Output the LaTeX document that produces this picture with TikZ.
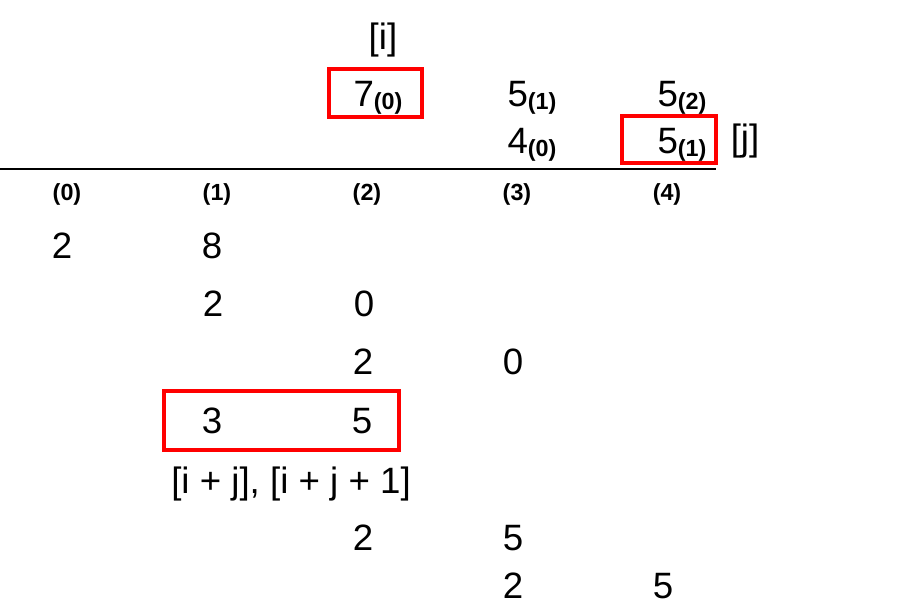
\documentclass[tikz,border=0pt]{standalone}
\usepackage{fontspec}
\setmainfont{Liberation Sans}
\newcommand\subidx[1]{\raisebox{-2.4pt}{\bfseries\fontsize{17.5}{20}\selectfont(#1)}}
\begin{document}
\begin{tikzpicture}[x=0.75pt,y=-0.75pt,
  num/.style={inner sep=0pt, font=\fontsize{27.5}{32}\selectfont},
  top/.style={inner sep=0pt, anchor=base, font=\fontsize{27.5}{32}\selectfont},
  hdr/.style={inner sep=0pt, font=\bfseries\fontsize{17.5}{20}\selectfont},
  redbox/.style={draw=red, line width=2.4pt},
  rule/.style={draw=black, line width=1.3pt}
]
\useasboundingbox (0,0) rectangle (913,615);

% top part
\node[num] (i) at (383,40) {[i]};
\node[top] (a0) at (378,106) {7\subidx{0}};
\node[top] (a1) at (532,106) {5\subidx{1}};
\node[top] (a2) at (682,106) {5\subidx{2}};
\node[top] (b0) at (532,153) {4\subidx{0}};
\node[top] (b1) at (682,153) {5\subidx{1}};
\node[num] (j) at (745,141) {[j]};
\draw[redbox] (329,69) rectangle (422,117);
\draw[redbox] (622,116) rectangle (716,163);

\coordinate (l0) at (0,169);
\coordinate (l1) at (716,169);
\draw[rule] (l0) -- (l1);

% headers
\node[hdr] (h0) at (67,194) {(0)};
\node[hdr] (h1) at (217,194) {(1)};
\node[hdr] (h2) at (367,194) {(2)};
\node[hdr] (h3) at (517,194) {(3)};
\node[hdr] (h4) at (667,194) {(4)};

% rows
\node[num] (r1a) at (62,246) {2};
\node[num] (r1b) at (212,246) {8};
\node[num] (r2a) at (213,304) {2};
\node[num] (r2b) at (364,304) {0};
\node[num] (r3a) at (363,362) {2};
\node[num] (r3b) at (513,362) {0};
\node[num] (r4a) at (212,421) {3};
\node[num] (r4b) at (362,421) {5};
\draw[redbox] (164,391) rectangle (399,450);
\node[num] (lab) at (291,484) {[i + j], [i + j + 1]};
\node[num] (r5a) at (363,538) {2};
\node[num] (r5b) at (513,538) {5};
\node[num] (r6a) at (513,586) {2};
\node[num] (r6b) at (663,586) {5};
\end{tikzpicture}
\end{document}
